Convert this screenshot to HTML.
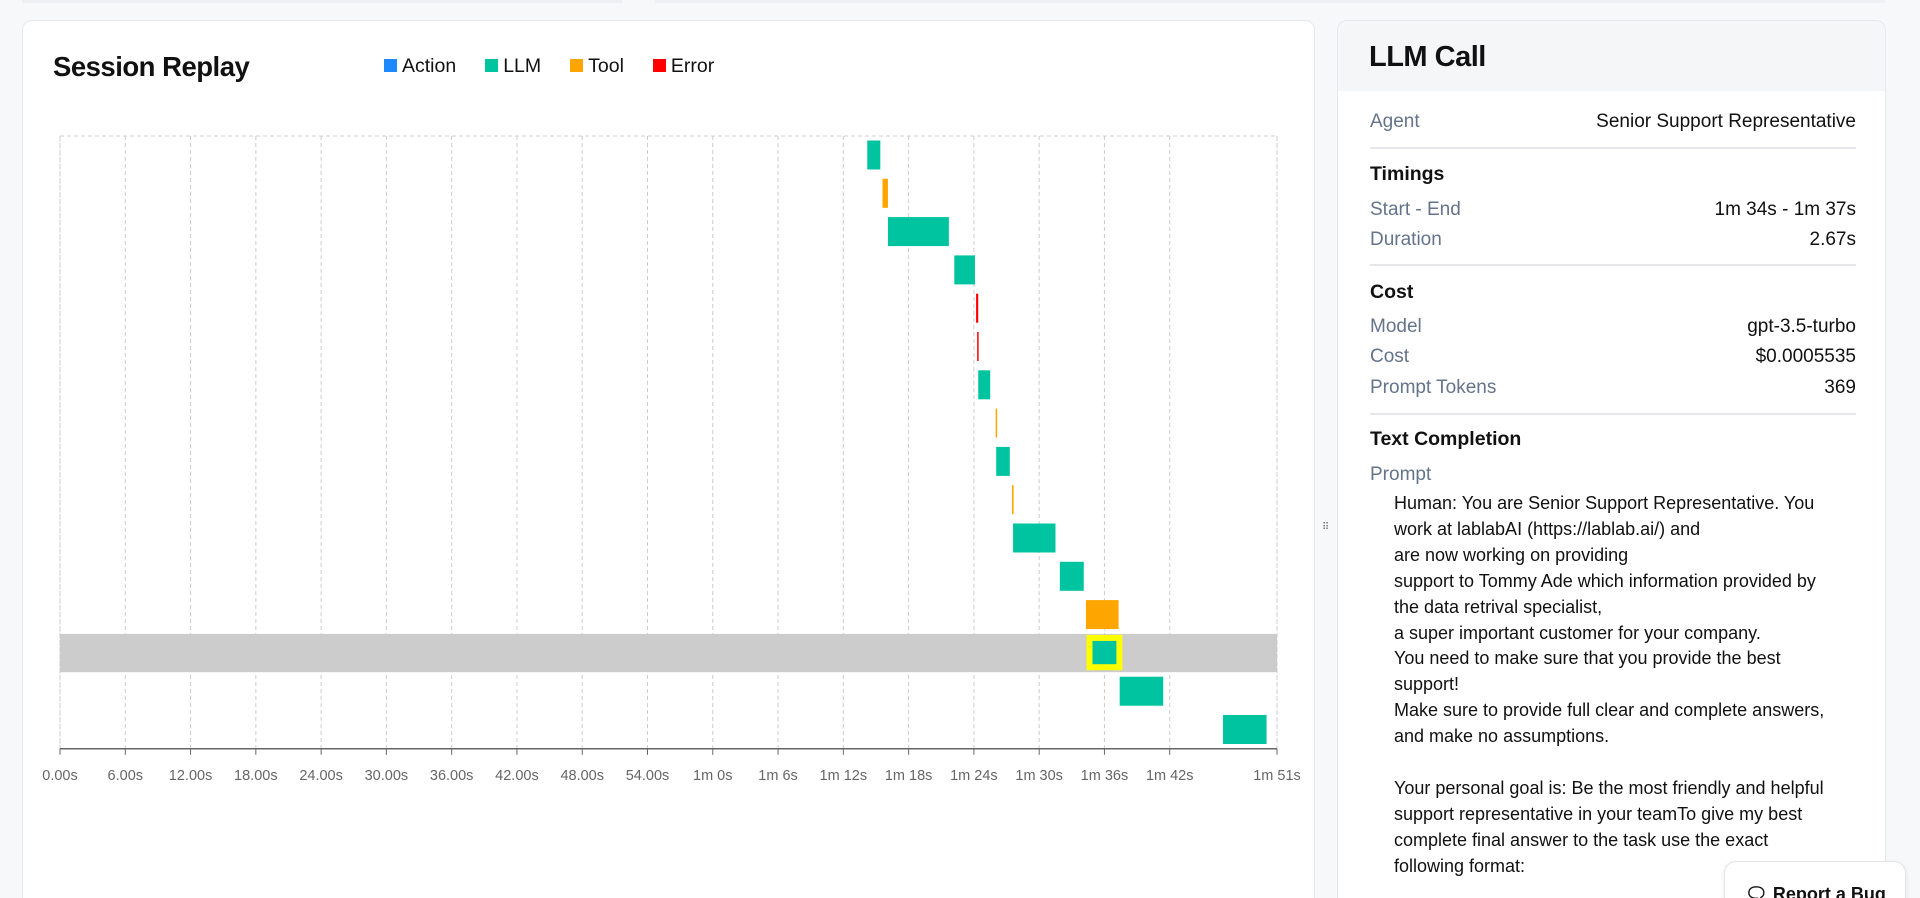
<!DOCTYPE html>
<html><head><meta charset="utf-8"><style>
*{box-sizing:border-box;margin:0;padding:0}
html,body{width:1920px;height:898px;overflow:hidden}
body{background:#f7f8fa;font-family:"Liberation Sans",sans-serif;position:relative}
.card{position:absolute;background:#fff;border:1px solid #e6e8ec;border-radius:10px}
#left{left:22px;top:20px;width:1293px;height:900px}
#right{left:1337px;top:20px;width:549px;height:900px;overflow:hidden}
.rh{background:#f5f6f8;height:70px;padding:20px 0 0 31px;font-size:29px;font-weight:bold;color:#111;letter-spacing:-0.5px}
.row{position:absolute;left:32px;width:486px;font-size:19px;display:flex;justify-content:space-between}
.row .l{color:#64748b}.row .r{color:#111}
.sec{position:absolute;left:32px;font-size:19.5px;font-weight:bold;color:#111}
.div{position:absolute;left:32px;width:486px;height:2px;background:#e5e7eb}
.body{position:absolute;left:56px;top:470px;width:460px;font-size:18px;line-height:25.9px;color:#111}
</style></head><body>
<div style="position:absolute;left:22px;top:0;width:600px;height:3px;background:#eef0f3"></div>
<div style="position:absolute;left:655px;top:0;width:1230px;height:3px;background:#eef0f3"></div>
<div id="left" class="card">
<div style="position:absolute;left:30px;top:30px;font-size:27.5px;font-weight:bold;color:#111;letter-spacing:-0.5px">Session Replay</div>
<div style="position:absolute;left:361px;top:34px;font-size:19.5px;color:#111;display:flex;gap:0">
<span style="margin-right:29px"><span style="display:inline-block;width:13px;height:13px;background:#1e88ff;margin-right:5px"></span>Action</span>
<span style="margin-right:29px"><span style="display:inline-block;width:13px;height:13px;background:#00c49f;margin-right:5px"></span>LLM</span>
<span style="margin-right:29px"><span style="display:inline-block;width:13px;height:13px;background:#ffa500;margin-right:5px"></span>Tool</span>
<span><span style="display:inline-block;width:13px;height:13px;background:#f00;margin-right:5px"></span>Error</span>
</div>
</div>
<svg id="chart" width="1920" height="898" style="position:absolute;left:0;top:0"></svg>
<div style="position:absolute;left:1322px;top:525px;width:8px;height:16px;color:#777;font-size:10px;line-height:5px">⠿</div>
<div id="right" class="card">
<div class="rh">LLM Call</div>
<div class="row" style="top:90px"><span class="l">Agent</span><span class="r">Senior Support Representative</span></div>
<div class="div" style="top:126px"></div>
<div class="sec" style="top:142px">Timings</div>
<div class="row" style="top:178px"><span class="l">Start - End</span><span class="r">1m 34s - 1m 37s</span></div>
<div class="row" style="top:208px"><span class="l">Duration</span><span class="r">2.67s</span></div>
<div class="div" style="top:243px"></div>
<div class="sec" style="top:260px">Cost</div>
<div class="row" style="top:295px"><span class="l">Model</span><span class="r">gpt-3.5-turbo</span></div>
<div class="row" style="top:325px"><span class="l">Cost</span><span class="r">$0.0005535</span></div>
<div class="row" style="top:356px"><span class="l">Prompt Tokens</span><span class="r">369</span></div>
<div class="div" style="top:392px"></div>
<div class="sec" style="top:407px">Text Completion</div>
<div class="row" style="top:443px"><span class="l">Prompt</span></div>
<div class="body">Human: You are Senior Support Representative. You<br>work at lablabAI (https://lablab.ai/) and<br>are now working on providing<br>support to Tommy Ade which information provided by<br>the data retrival specialist,<br>a super important customer for your company.<br>You need to make sure that you provide the best<br>support!<br>Make sure to provide full clear and complete answers,<br>and make no assumptions.<br><br>Your personal goal is: Be the most friendly and helpful<br>support representative in your teamTo give my best<br>complete final answer to the task use the exact<br>following format:</div>
</div>
<div style="position:absolute;left:1724px;top:861px;width:182px;height:50px;background:#fff;border:1px solid #e2e4e8;border-radius:12px;box-shadow:0 2px 6px rgba(0,0,0,.08);font-size:18px;font-weight:bold;color:#111;padding:22px 0 0 20px">🗨 Report a Bug</div>
<script>
const types=["LLM","Tool","LLM","LLM","Error","Error","LLM","Tool","LLM","Tool","LLM","LLM","Tool","LLM","LLM","LLM"];
const starts=[74.2,75.6,76.1,82.2,84.2,84.3,84.4,86.0,86.05,87.5,87.6,91.9,94.3,94.9,97.4,106.9];
const ends=[75.4,76.1,81.7,84.1,84.4,84.4,85.5,86.1,87.3,87.65,91.5,94.1,97.3,97.1,101.4,110.9];
const tickVals=[0,6,12,18,24,30,36,42,48,54,60,66,72,78,84,90,96,102,111.86];
const tickLabels=["0.00s","6.00s","12.00s","18.00s","24.00s","30.00s","36.00s","42.00s","48.00s","54.00s","1m 0s","1m 6s","1m 12s","1m 18s","1m 24s","1m 30s","1m 36s","1m 42s","1m 51s"];
const selectedIndex=13;
const domainMax=111.86;
const colors={LLM:"#00c49f",Tool:"#ffa500",Error:"#f00",Action:"#1e88ff"};
const NS="http://www.w3.org/2000/svg",svg=document.getElementById('chart');
const X0=60,X1=1277,Y0=136,ROW=38.3;
const xs=v=>X0+(X1-X0)*v/domainMax;
const ys=i=>Y0+ROW*i;
function mk(t,a){const e=document.createElementNS(NS,t);for(const k in a)e.setAttribute(k,a[k]);svg.appendChild(e);return e;}
const Ybot=Y0+ROW*types.length;
let fr=mk('rect',{x:X0,y:Y0,width:X1-X0,height:Ybot-Y0,fill:'none',stroke:'#ccc','stroke-dasharray':'4 3'});


tickVals.forEach((v,i)=>{
 const g=mk('line',{x1:xs(v),x2:xs(v),y1:Y0,y2:Ybot,stroke:'#ccc','stroke-dasharray':'4 3'});
 
 
 const t=mk('line',{x1:xs(v),x2:xs(v),y1:Ybot,y2:Ybot+6,stroke:'#666'});
 
 
 const l=mk('text',{x:xs(v),y:Ybot+31,'text-anchor':'middle','font-size':'14.5','fill':'#666','font-family':'Liberation Sans, sans-serif'});
 l.textContent=tickLabels[i];
 
 
});
const hl=mk('rect',{x:X0,y:ys(selectedIndex),width:X1-X0,height:ROW,fill:'#cccccc'});


const ax=mk('line',{x1:X0,x2:X1,y1:Ybot,y2:Ybot,stroke:'#666','stroke-width':1.5});


types.forEach((tp,i)=>{
 const x=xs(starts[i]),w=Math.max(1.5,xs(ends[i])-x),y=ys(i)+4.5;
 if(i===selectedIndex){
  const s=mk('rect',{x:x-6,y:ys(i)+1,width:w+12,height:ROW-3,fill:'#ffff00'});
  
  
  const b=mk('rect',{x:x,y:ys(i)+7,width:w,height:ROW-15,fill:colors[tp]});
  
  
 } else {
  const b=mk('rect',{x:x,y:y,width:w,height:29,fill:colors[tp]});
  
  
 }
});
</script>
</body></html>
